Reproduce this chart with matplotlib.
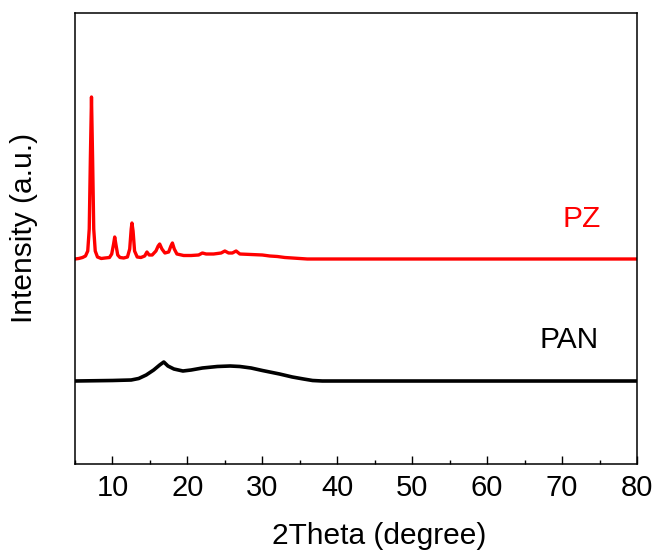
import matplotlib
matplotlib.use('Agg')
import matplotlib.pyplot as plt
from matplotlib.ticker import MultipleLocator
import numpy as np

plt.rcParams['font.family'] = ['Liberation Sans', 'DejaVu Sans']

# --- data (height above each trace's own baseline) ---
pz_2theta = [5.0, 5.5, 6.0, 6.4, 6.7, 6.9, 7.05, 7.2, 7.35, 7.5, 7.7, 8.0, 8.5, 9.0,
             9.6, 9.9, 10.15, 10.3, 10.45, 10.7, 11.0, 11.5, 12.0, 12.3, 12.5, 12.6,
             12.75, 12.95, 13.3, 13.8, 14.3, 14.6, 14.9, 15.3, 15.8, 16.1, 16.3, 16.6,
             17.0, 17.5, 17.8, 18.0, 18.25, 18.6, 19.5, 20.5, 21.5, 22.0, 22.5, 23.5,
             24.5, 25.0, 25.5, 26.0, 26.5, 27.0, 28.5, 30.0, 31.0, 32.0, 33.0, 34.0,
             35.0, 36.0, 80.0]
pz_int = [0, 0.5, 1.5, 3, 8, 30, 100, 162, 100, 30, 8, 2, 0.5, 1,
          1.5, 5, 15, 22, 15, 4, 1.5, 1, 2, 10, 30, 36,
          28, 8, 2, 1.5, 3, 7, 4, 4, 8, 13, 15, 10,
          6, 7, 13, 16, 10, 5, 3.5, 3.5, 4, 6, 5, 5,
          6, 8, 6, 6, 8, 5, 4.5, 4, 3, 2.5, 1.5, 1,
          0.5, 0, 0]

pan_2theta = [5.0, 10.0, 12.5, 13.5, 14.5, 15.5, 16.3, 16.85, 17.4, 18.2, 19.4, 20.5,
              22.0, 24.0, 25.7, 27.0, 28.5, 30.0, 32.3, 34.0, 35.5, 36.7, 38.0, 80.0]
pan_int = [0, 0.5, 1, 2.5, 6, 11, 16, 19, 15, 12, 10, 11,
           13, 14.5, 15, 14.5, 13, 10.5, 7, 4, 2, 0.5, 0, 0]

pz_offset = 205
pan_offset = 83

fig = plt.figure(figsize=(6.59, 5.53), dpi=100)
ax = fig.add_axes([75 / 659, 89 / 553, 562 / 659, 451 / 553])

ax.plot(pz_2theta, np.array(pz_int) + pz_offset, color='#ff0000', lw=2.4)
ax.plot(pan_2theta, np.array(pan_int) + pan_offset, color='black', lw=2.6)

ax.text(72.6, 237, 'PZ', color='#ff0000', fontsize=21.5, ha='center', va='baseline')
ax.text(71.0, 116, 'PAN', color='black', fontsize=21.5, ha='center', va='baseline')

ax.set_xlim(5, 80)
ax.set_ylim(0, 451)
ax.xaxis.set_major_locator(MultipleLocator(10))
ax.xaxis.set_minor_locator(MultipleLocator(5))
ax.tick_params(axis='x', which='major', direction='in', length=6, width=1.0,
               labelsize=21, pad=7, top=False)
ax.tick_params(axis='x', which='minor', direction='in', length=3, width=1.0, top=False)
ax.set_yticks([])
for sp in ax.spines.values():
    sp.set_linewidth(1.1)

ax.set_xlabel('2Theta (degree)', fontsize=21.5)
ax.xaxis.set_label_coords(0.542, -0.128)
ax.set_ylabel('Intensity (a.u.)', fontsize=21.5)
ax.yaxis.set_label_coords(-0.066, 0.523)

fig.savefig('out.png', dpi=100)
